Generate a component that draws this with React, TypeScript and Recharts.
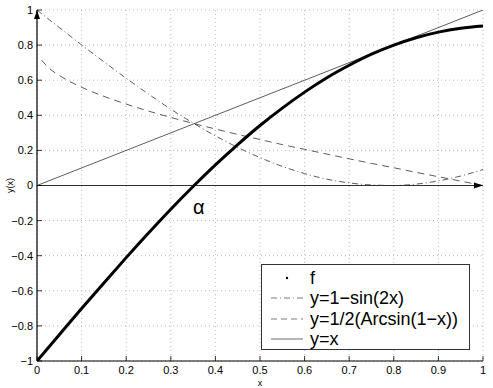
import React from 'react';
import { LineChart, Line, XAxis, YAxis, CartesianGrid, ReferenceLine, ReferenceDot } from 'recharts';

// sample points
const xs = [0, 0.05, 0.1, 0.15, 0.2, 0.25, 0.3, 0.35, 0.4, 0.45, 0.5, 0.55, 0.6, 0.65, 0.7, 0.75, 0.8, 0.85, 0.9, 0.95, 1];
const fValues = [-1, -0.85, -0.701, -0.555, -0.411, -0.271, -0.135, -0.006, 0.117, 0.233, 0.342, 0.441, 0.532, 0.614, 0.685, 0.748, 0.8, 0.842, 0.874, 0.896, 0.909];
const sinValues = [1, 0.9, 0.801, 0.705, 0.611, 0.521, 0.435, 0.356, 0.283, 0.217, 0.159, 0.109, 0.068, 0.036, 0.015, 0.003, 0, 0.008, 0.026, 0.054, 0.091];
const asinXs = [0.01, 0.025, 0.05, 0.1, 0.15, 0.2, 0.25, 0.3, 0.35, 0.4, 0.45, 0.5, 0.55, 0.6, 0.65, 0.7, 0.75, 0.8, 0.85, 0.9, 0.95, 1];
const asinValues = [0.715, 0.673, 0.627, 0.56, 0.508, 0.464, 0.424, 0.388, 0.354, 0.322, 0.291, 0.262, 0.233, 0.206, 0.179, 0.152, 0.126, 0.101, 0.075, 0.05, 0.025, 0];
const idXs = [0, 1];
const idValues = [0, 1];

const xTicks = [0, 0.1, 0.2, 0.3, 0.4, 0.5, 0.6, 0.7, 0.8, 0.9, 1];
const yTicks = [-1, -0.8, -0.6, -0.4, -0.2, 0, 0.2, 0.4, 0.6, 0.8, 1];

const legendItems = [
  { label: 'f', kind: 'dot' },
  { label: 'y=1\u2212sin(2x)', kind: 'dashdot' },
  { label: 'y=1/2(Arcsin(1\u2212x))', kind: 'dash' },
  { label: 'y=x', kind: 'solid' },
];

const fData = xs.map((x, i) => ({ x, y: fValues[i] }));
const sinData = xs.map((x, i) => ({ x, y: sinValues[i] }));
const asinData = asinXs.map((x, i) => ({ x, y: asinValues[i] }));
const idData = idXs.map((x, i) => ({ x, y: idValues[i] }));

const FONT = '"Liberation Sans", Arial, Helvetica, sans-serif';
const TICK_LEN = 5;
const X_MARGIN = 5;
const Y_MARGIN = 4;

const fmt = (v: number) => (v < 0 ? '\u2212' + String(-v) : String(v));

const BottomTick = (props: any) => {
  const { x, y, payload } = props;
  const axisY = y - X_MARGIN;
  return (
    <g>
      <line x1={x} y1={axisY} x2={x} y2={axisY - TICK_LEN} stroke="#000" strokeWidth={0.8} />
      <text x={x} y={y} dy="0.71em" textAnchor="middle" fontSize={11} fontFamily={FONT} fill="#000">
        {fmt(payload.value)}
      </text>
    </g>
  );
};

const LeftTick = (props: any) => {
  const { x, y, payload } = props;
  const axisX = x + Y_MARGIN;
  return (
    <g>
      <line x1={axisX} y1={y} x2={axisX + TICK_LEN} y2={y} stroke="#000" strokeWidth={0.8} />
      <text x={x} y={y} dy="0.355em" textAnchor="end" fontSize={11} fontFamily={FONT} fill="#000">
        {fmt(payload.value)}
      </text>
    </g>
  );
};

const TopTick = (props: any) => (
  <line x1={props.x} y1={props.y} x2={props.x} y2={props.y + TICK_LEN} stroke="#000" strokeWidth={0.8} />
);

const RightTick = (props: any) => (
  <line x1={props.x} y1={props.y} x2={props.x - TICK_LEN} y2={props.y} stroke="#000" strokeWidth={0.8} />
);

const ArrowRight = (props: any) => (
  <path d={`M${props.cx},${props.cy} l-9,-3 l0,6 z`} fill="#000" />
);
const ArrowUp = (props: any) => (
  <path d={`M${props.cx},${props.cy} l-3,9 l6,0 z`} fill="#000" />
);

function Legend() {
  return (
    <div
      style={{
        position: 'absolute',
        left: 261,
        top: 264,
        width: 209,
        height: 86,
        boxSizing: 'border-box',
        border: '1.5px solid #333',
        background: '#fff',
        paddingTop: 3,
        fontFamily: FONT,
        fontSize: 18,
      }}
    >
      {legendItems.map((it) => (
        <div key={it.label} style={{ display: 'flex', alignItems: 'center', height: 20.3 }}>
          <svg width={48} height={20} style={{ flex: 'none' }}>
            {it.kind === 'dot' && <circle cx={25} cy={10} r={1.2} fill="#000" />}
            {it.kind === 'dashdot' && (
              <line x1={9} y1={10} x2={41} y2={10} stroke="#555" strokeWidth={0.8} strokeDasharray="6 3 1 3" />
            )}
            {it.kind === 'dash' && (
              <line x1={9} y1={10} x2={41} y2={10} stroke="#555" strokeWidth={0.8} strokeDasharray="6 4" />
            )}
            {it.kind === 'solid' && <line x1={9} y1={10} x2={41} y2={10} stroke="#444" strokeWidth={0.8} />}
          </svg>
          <span style={{ lineHeight: '20px' }}>{it.label}</span>
        </div>
      ))}
    </div>
  );
}

export default function App() {
  return (
    <div style={{ position: 'absolute', left: 0, top: 0, width: 493, height: 388, background: '#fff' }}>
      <LineChart width={493} height={388} margin={{ top: 10, right: 10, left: 0, bottom: 0 }}>
        <CartesianGrid stroke="#aaa" strokeDasharray="1 3" strokeWidth={0.8} xAxisId="bottom" yAxisId="left" />
        <XAxis
          xAxisId="bottom"
          type="number"
          dataKey="x"
          domain={[0, 1]}
          ticks={xTicks}
          height={27}
          tickSize={0}
          tickMargin={X_MARGIN}
          tick={<BottomTick />}
          axisLine={{ stroke: '#000', strokeWidth: 1 }}
          allowDataOverflow
          label={({ viewBox }: any) => (
            <text x={viewBox.x + viewBox.width / 2} y={viewBox.y + 25} textAnchor="middle" fontSize={9} fontFamily={FONT} fill="#000">
              x
            </text>
          )}
        />
        <XAxis
          xAxisId="top"
          orientation="top"
          type="number"
          dataKey="x"
          domain={[0, 1]}
          ticks={xTicks}
          height={0}
          tickSize={0}
          tickMargin={0}
          tick={<TopTick />}
          axisLine={{ stroke: '#000', strokeWidth: 1 }}
        />
        <YAxis
          yAxisId="left"
          type="number"
          domain={[-1, 1]}
          ticks={yTicks}
          width={37}
          tickSize={0}
          tickMargin={Y_MARGIN}
          tick={<LeftTick />}
          axisLine={{ stroke: '#000', strokeWidth: 1.2 }}
          allowDataOverflow
          label={({ viewBox }: any) => (
            <text
              x={10}
              y={viewBox.y + viewBox.height / 2}
              transform={`rotate(-90 10 ${viewBox.y + viewBox.height / 2})`}
              textAnchor="middle"
              dy="0.35em"
              fontSize={9}
              fontFamily={FONT}
              fill="#000"
            >
              y(x)
            </text>
          )}
        />
        <YAxis
          yAxisId="right"
          orientation="right"
          type="number"
          domain={[-1, 1]}
          ticks={yTicks}
          width={0}
          tickSize={0}
          tickMargin={0}
          tick={<RightTick />}
          axisLine={{ stroke: '#000', strokeWidth: 1 }}
        />
        <ReferenceLine xAxisId="bottom" yAxisId="left" y={0} stroke="#000" strokeWidth={0.8} />
        <Line
          xAxisId="bottom"
          yAxisId="left"
          data={idData}
          dataKey="y"
          type="linear"
          stroke="#333"
          strokeWidth={0.8}
          dot={false}
          isAnimationActive={false}
        />
        <Line
          xAxisId="bottom"
          yAxisId="left"
          data={sinData}
          dataKey="y"
          type="monotone"
          stroke="#333"
          strokeWidth={0.8}
          strokeDasharray="6 3 1 3"
          dot={false}
          isAnimationActive={false}
        />
        <Line
          xAxisId="bottom"
          yAxisId="left"
          data={asinData}
          dataKey="y"
          type="monotone"
          stroke="#333"
          strokeWidth={0.8}
          strokeDasharray="7 5"
          dot={false}
          isAnimationActive={false}
        />
        <Line
          xAxisId="bottom"
          yAxisId="left"
          data={fData}
          dataKey="y"
          type="monotone"
          stroke="#000"
          strokeWidth={3}
          dot={false}
          isAnimationActive={false}
        />
        <ReferenceDot xAxisId="bottom" yAxisId="left" x={1} y={0} r={0} shape={<ArrowRight />} ifOverflow="visible" />
        <ReferenceDot xAxisId="bottom" yAxisId="left" x={0} y={1} r={0} shape={<ArrowUp />} ifOverflow="visible" />
        <ReferenceDot
          xAxisId="bottom"
          yAxisId="left"
          x={0.363}
          y={-0.122}
          r={0}
          fill="none"
          stroke="none"
          ifOverflow="visible"
          label={{ value: '\u03b1', position: 'center', fontSize: 20, fontFamily: FONT, fill: '#000' }}
        />
      </LineChart>
      <Legend />
    </div>
  );
}
